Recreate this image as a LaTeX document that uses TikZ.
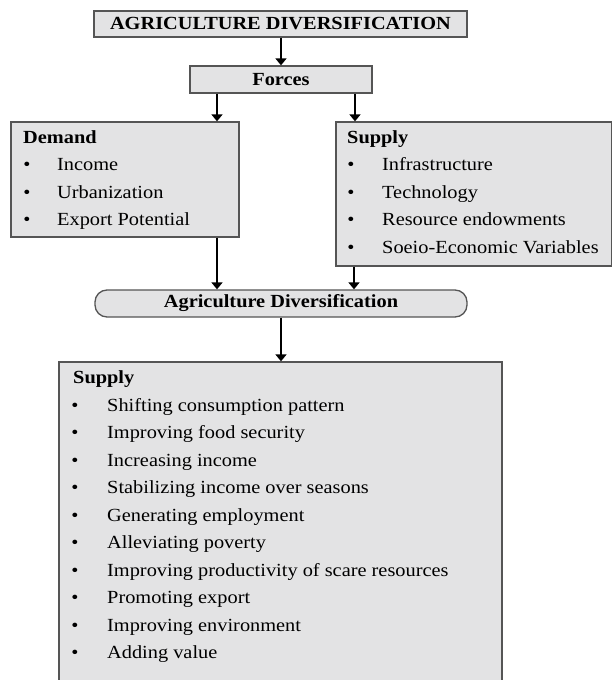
\documentclass[tikz,border=0pt]{standalone}
\usepackage{fontspec}
\setmainfont{Liberation Serif}[FakeStretch=1.1]
\usetikzlibrary{arrows.meta}
\definecolor{boxfill}{HTML}{E3E3E4}
\definecolor{boxline}{HTML}{555555}
\tikzset{
  box/.style={draw=boxline, line width=1.3pt, fill=boxfill, inner sep=0pt},
  lbl/.style={inner sep=0pt, font=\fontsize{18.5}{22}\selectfont},
  txt/.style={lbl, anchor=base west},
  bul/.style={lbl, anchor=base},
  ttl/.style={txt, font=\fontsize{18.5}{22}\selectfont\bfseries},
  arr/.style={-{Triangle[width=11pt,length=7pt]}, line width=1.5pt, black},
}
\begin{document}
\begin{tikzpicture}[x=1pt,y=-1pt]
\useasboundingbox (0,0) rectangle (613,680);
% boxes
\node[box, minimum width=373pt, minimum height=26pt, font=\fontsize{18.5}{22}\selectfont\bfseries] (top) at (280.5,24) {AGRICULTURE DIVERSIFICATION};
\node[box, minimum width=182pt, minimum height=27pt, font=\fontsize{18.5}{22}\selectfont\bfseries] (forces) at (281,79.5) {Forces};
\node[box, minimum width=228pt, minimum height=115pt] (demand) at (125,179.5) {};
\node[box, minimum width=275.5pt, minimum height=144pt] (supply) at (473.75,194) {};
\node[box, rounded corners=12pt, minimum width=372pt, minimum height=27pt, font=\fontsize{18.5}{22}\selectfont\bfseries] (agri) at (281,303.5) {Agriculture Diversification};
\node[box, minimum width=443pt, minimum height=338pt] (effects) at (280.5,531) {};
% demand text
\node[ttl] (dtitle) at (23,143) {Demand};
\foreach \t [count=\i] in {Income,Urbanization,Export Potential}{
  \node[bul] (db\i) at (27,143+27.5*\i) {•};
  \node[txt] (d\i) at (57,143+27.5*\i) {\t};
}
% supply text
\node[ttl] (stitle) at (347,143) {Supply};
\foreach \t [count=\i] in {Infrastructure,Technology,Resource endowments,Soeio-Economic Variables}{
  \node[bul] (sb\i) at (351,143+27.5*\i) {•};
  \node[txt] (s\i) at (382,143+27.5*\i) {\t};
}
% effects text
\node[ttl] (etitle) at (73,383.5) {Supply};
\foreach \t [count=\i] in {Shifting consumption pattern,Improving food security,Increasing income,Stabilizing income over seasons,Generating employment,Alleviating poverty,Improving productivity of scare resources,Promoting export,Improving environment,Adding value}{
  \node[bul] (eb\i) at (75,383.5+27.5*\i) {•};
  \node[txt] (e\i) at (107,383.5+27.5*\i) {\t};
}
% connectors
\draw[arr] (forces.north |- top.south) -- (forces.north);
\draw[arr] ([xshift=-64pt]forces.south) -- ([xshift=-64pt]forces.south |- demand.north);
\draw[arr] ([xshift=74pt]forces.south) -- ([xshift=74pt]forces.south |- supply.north);
\draw[arr] ([xshift=92pt]demand.south) -- ([xshift=92pt]demand.south |- agri.north);
\draw[arr] ([xshift=-119.75pt]supply.south) -- ([xshift=-119.75pt]supply.south |- agri.north);
\draw[arr] (agri.south) -- (agri.south |- effects.north);
\end{tikzpicture}
\end{document}
